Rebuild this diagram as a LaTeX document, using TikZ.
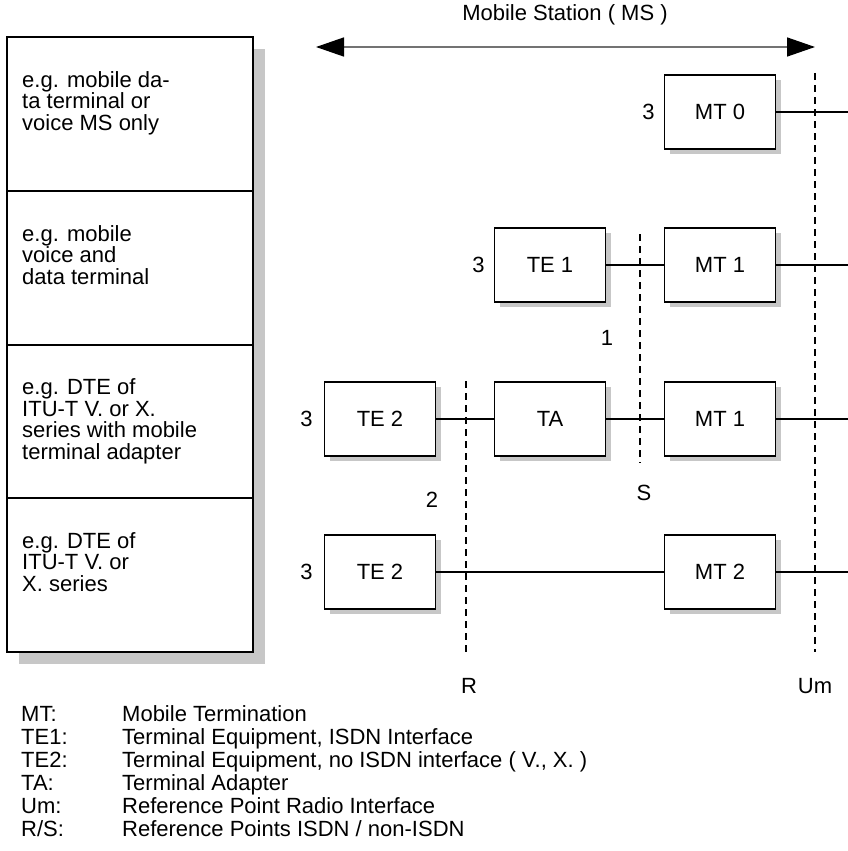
\documentclass[tikz,border=0pt]{standalone}
\usepackage{fontspec}
\setmainfont{Liberation Sans}
\usetikzlibrary{arrows.meta, positioning, shadows}

\tikzset{
  unit/.style={draw, line width=1.4pt, fill=white, minimum width=111pt,
    minimum height=74pt, inner sep=0pt,
    drop shadow={shadow xshift=5pt, shadow yshift=-5pt, fill=black!22, opacity=1}},
  refline/.style={line width=2.2pt, dash pattern=on 7pt off 5pt},
  link/.style={line width=1.2pt},
  lbl/.style={inner sep=0pt},
  example/.style={anchor=north west, align=left, inner sep=0pt,
    font=\fontsize{22}{21.5}\selectfont},
  abbr/.style={anchor=base west, inner sep=0pt}
}

\begin{document}
\begin{tikzpicture}[x=1pt, y=-1pt, font=\fontsize{22}{24}\selectfont]
  \useasboundingbox (0,0) rectangle (848,851);

  %--- left column: kinds of mobile station ---
  \fill[black!22] (19,49) rectangle (265,664);
  \draw[line width=1.4pt, fill=white] (7,37) rectangle (253,652);
  \foreach \y in {191,345,498}
    \draw[line width=1.4pt] (7,\y) -- (253,\y);
  \node[example] (exzero)  at (22,71)    {e.g. mobile da-\\ta terminal or\\voice MS only};
  \node[example] (exone)   at (22,225)   {e.g. mobile\\voice and\\data terminal};
  \node[example] (extwo)   at (22,378.5) {e.g. DTE of\\ITU-T V. or X.\\series with mobile\\terminal adapter};
  \node[example] (exthree) at (22,532)   {e.g. DTE of\\ITU-T V. or\\X. series};

  %--- mobile station span ---
  \node (mstitle) at (565,15) {Mobile Station ( MS )};
  \coordinate (msleft)  at (316,47);
  \coordinate (msright) at (815,47);
  \draw[line width=1.5pt, black!55,
    {Triangle[length=28pt,width=19pt,color=black]}-{Triangle[length=28pt,width=19pt,color=black]}]
    (msleft) -- (msright);

  %--- reference lines (drawn first, boxes on top) ---
  \coordinate (umtop) at (815,73);  \coordinate (umbot) at (815,652);
  \coordinate (stop)  at (640,234); \coordinate (sbot)  at (640,463);
  \coordinate (rtop)  at (466,381); \coordinate (rbot)  at (466,652);
  \draw[refline] (umtop) -- (umbot);
  \draw[refline] (stop) -- (sbot);
  \draw[refline] (rtop) -- (rbot);

  %--- functional units ---
  \node[unit] (mtzero) at (720,112) {MT 0};
  \node[unit] (teone)  at (550,265) {TE 1};
  \node[unit] (mtone)  at (720,265) {MT 1};
  \node[unit] (tetwo)  at (380,419) {TE 2};
  \node[unit] (ta)     at (550,419) {TA};
  \node[unit] (mtoneb) at (720,419) {MT 1};
  \node[unit] (tetwob) at (380,572) {TE 2};
  \node[unit] (mttwo)  at (720,572) {MT 2};

  % radio side ends at the picture edge
  \coordinate (edgea) at (848,112);
  \coordinate (edgeb) at (848,265);
  \coordinate (edgec) at (848,419);
  \coordinate (edged) at (848,572);

  \draw[link] (mtzero) -- (edgea);
  \draw[link] (teone) -- (mtone);
  \draw[link] (mtone) -- (edgeb);
  \draw[link] (tetwo) -- (ta);
  \draw[link] (ta) -- (mtoneb);
  \draw[link] (mtoneb) -- (edgec);
  \draw[link] (tetwob) -- (mttwo);
  \draw[link] (mttwo) -- (edged);

  % layer numbers
  \node[lbl, left=9pt of mtzero]  (lmtzero)  {3};
  \node[lbl, left=9pt of teone]   (lteone)   {3};
  \node[lbl, left=11pt of tetwo]  (ltetwo)   {3};
  \node[lbl, left=11pt of tetwob] (ltetwob)  {3};
  \node[lbl] (lone) at (607,338) {1};
  \node[lbl] (ltwo) at (432,500) {2};

  % reference point names
  \node[lbl] (sname)  at (644,493) {S};
  \node[lbl] (rname)  at (469,686) {R};
  \node[lbl] (umname) at (815,686) {Um};

  %--- legend ---
  \node[abbr] (kmt)  at (21,721) {MT:};
  \node[abbr] (kte1) at (21,744) {TE1:};
  \node[abbr] (kte2) at (21,767) {TE2:};
  \node[abbr] (kta)  at (21,790) {TA:};
  \node[abbr] (kum)  at (21,813) {Um:};
  \node[abbr] (krs)  at (21,836) {R/S:};
  \node[abbr] (dmt)  at (122,721) {Mobile Termination};
  \node[abbr] (dte1) at (122,744) {Terminal Equipment, ISDN Interface};
  \node[abbr] (dte2) at (122,767) {Terminal Equipment, no ISDN interface ( V., X. )};
  \node[abbr] (dta)  at (122,790) {Terminal Adapter};
  \node[abbr] (dum)  at (122,813) {Reference Point Radio Interface};
  \node[abbr] (drs)  at (122,836) {Reference Points ISDN / non-ISDN};
\end{tikzpicture}
\end{document}
